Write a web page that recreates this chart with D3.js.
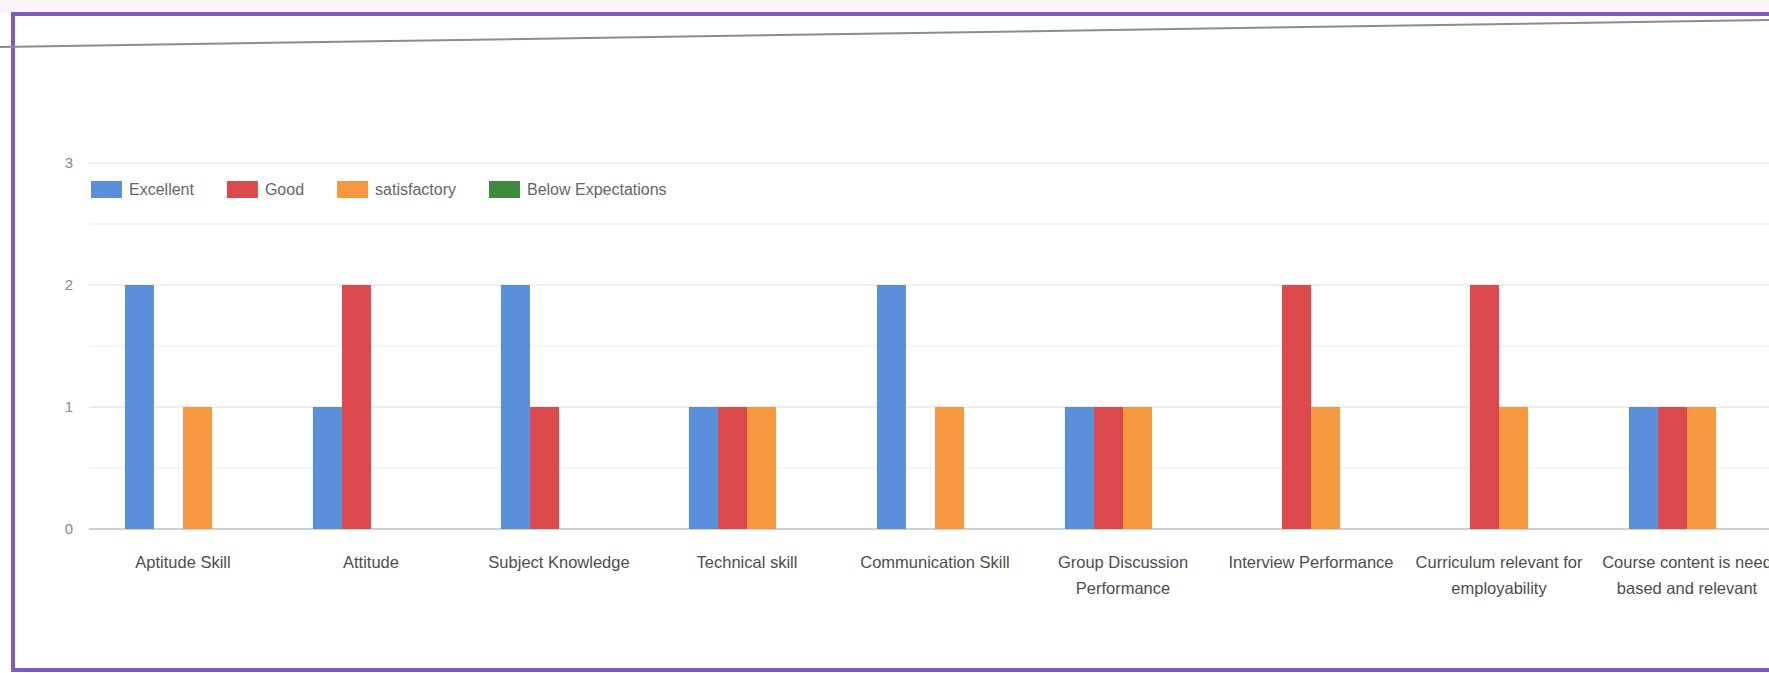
<!DOCTYPE html>
<html>
<head>
<meta charset="utf-8">
<script src="https://cdn.jsdelivr.net/npm/d3@7"></script>
<style>
  html, body { margin: 0; padding: 0; background: #fff; }
  svg { display: block; font-family: 'Liberation Sans', Arial, sans-serif; }
</style>
</head>
<body>
<div id="chart"></div>
<script>
// Placement feedback – grouped column chart, scanned look

const categories = [
    'Aptitude Skill',
    'Attitude',
    'Subject Knowledge',
    'Technical skill',
    'Communication Skill',
    'Group Discussion Performance',
    'Interview Performance',
    'Curriculum relevant for employability',
    'Course content is need based and relevant'
];
const seriesNames = ['Excellent', 'Good', 'satisfactory', 'Below Expectations'];
const seriesColors = ['#5a8fdc', '#dc4a4e', '#f5983f', '#3f8a3c'];
const excellent = [2, 1, 2, 1, 2, 1, 0, 0, 1];
const good = [0, 2, 1, 1, 0, 1, 2, 2, 1];
const satisfactory = [1, 0, 0, 1, 1, 1, 1, 1, 1];
const belowExpectations = [0, 0, 0, 0, 0, 0, 0, 0, 0];
const yTicks = [0, 1, 2, 3];
const yMinorTicks = [0.5, 1.5, 2.5];

const values = [excellent, good, satisfactory, belowExpectations];

const W = 1769, H = 673;
const svg = d3.select('#chart').append('svg')
    .attr('width', W)
    .attr('height', H);

// faint tint above the frame + page edge line from the scan
svg.append('rect').attr('x', 0).attr('y', 0).attr('width', W).attr('height', 13)
    .attr('fill', '#fbf4fb');

// frame (right side runs off the page)
svg.append('rect')
    .attr('x', 13).attr('y', 14)
    .attr('width', W + 20).attr('height', 656)
    .attr('fill', '#fff')
    .attr('stroke', '#7b5dbd')
    .attr('stroke-width', 4);

svg.append('line')
    .attr('x1', 0).attr('y1', 47)
    .attr('x2', W).attr('y2', 20)
    .attr('stroke', '#8c8c8c')
    .attr('stroke-width', 2);

// scales
const step = 188;
const x0 = d3.scaleBand()
    .domain(categories)
    .range([89, 89 + step * categories.length])
    .paddingInner(0.382)
    .paddingOuter(0.191);

const x1 = d3.scaleBand()
    .domain(seriesNames)
    .range([0, x0.bandwidth()]);

const y = d3.scaleLinear().domain([0, 3]).range([529, 163]);

// gridlines
svg.append('g')
    .selectAll('line')
    .data(yMinorTicks)
    .join('line')
    .attr('x1', 89).attr('x2', W)
    .attr('y1', d => y(d)).attr('y2', d => y(d))
    .attr('stroke', '#f3f3f3')
    .attr('stroke-width', 1.5);

svg.append('g')
    .selectAll('line')
    .data(yTicks)
    .join('line')
    .attr('x1', 89).attr('x2', W)
    .attr('y1', d => y(d)).attr('y2', d => y(d))
    .attr('stroke', d => d === 0 ? '#cfcfcf' : '#e7e7e7')
    .attr('stroke-width', d => d === 0 ? 2 : 1.5);

// y tick labels
svg.append('g')
    .selectAll('text')
    .data(yTicks)
    .join('text')
    .attr('x', 73)
    .attr('y', d => y(d))
    .attr('dy', '0.35em')
    .attr('text-anchor', 'end')
    .attr('fill', '#8a8a8a')
    .attr('font-size', '15px')
    .text(d => d);

// bars (zero values are not drawn)
const barData = [];
categories.forEach((c, i) => {
    seriesNames.forEach((s, j) => {
        if (values[j][i] > 0) barData.push({ cat: c, series: s, value: values[j][i], color: seriesColors[j] });
    });
});

svg.append('g')
    .selectAll('rect')
    .data(barData)
    .join('rect')
    .attr('x', d => x0(d.cat) + x1(d.series))
    .attr('width', x1.bandwidth())
    .attr('y', d => y(d.value))
    .attr('height', d => y(0) - y(d.value))
    .attr('fill', d => d.color);

// category labels, wrapped to the step width
const labelG = svg.append('g');
categories.forEach(c => {
    const cx = x0(c) + x0.bandwidth() / 2;
    const t = labelG.append('text')
        .attr('x', cx)
        .attr('y', 568)
        .attr('text-anchor', 'middle')
        .attr('fill', '#4d4d4d')
        .attr('font-size', '16.5px');
    const words = c.split(' ');
    let line = [];
    let tspan = t.append('tspan').attr('x', cx).attr('dy', 0);
    words.forEach(w => {
        line.push(w);
        tspan.text(line.join(' '));
        if (tspan.node().getComputedTextLength() > step - 8 && line.length > 1) {
            line.pop();
            tspan.text(line.join(' '));
            line = [w];
            tspan = t.append('tspan').attr('x', cx).attr('dy', 26).text(w);
        }
    });
});

// legend
const legend = svg.append('g');
let lx = 91;
seriesNames.forEach((s, j) => {
    legend.append('rect')
        .attr('x', lx).attr('y', 181)
        .attr('width', 31).attr('height', 17)
        .attr('fill', seriesColors[j]);
    const txt = legend.append('text')
        .attr('x', lx + 38)
        .attr('y', 195)
        .attr('fill', '#666')
        .attr('font-size', '16px')
        .text(s);
    lx += 38 + txt.node().getComputedTextLength() + 33;
});
</script>
</body>
</html>
